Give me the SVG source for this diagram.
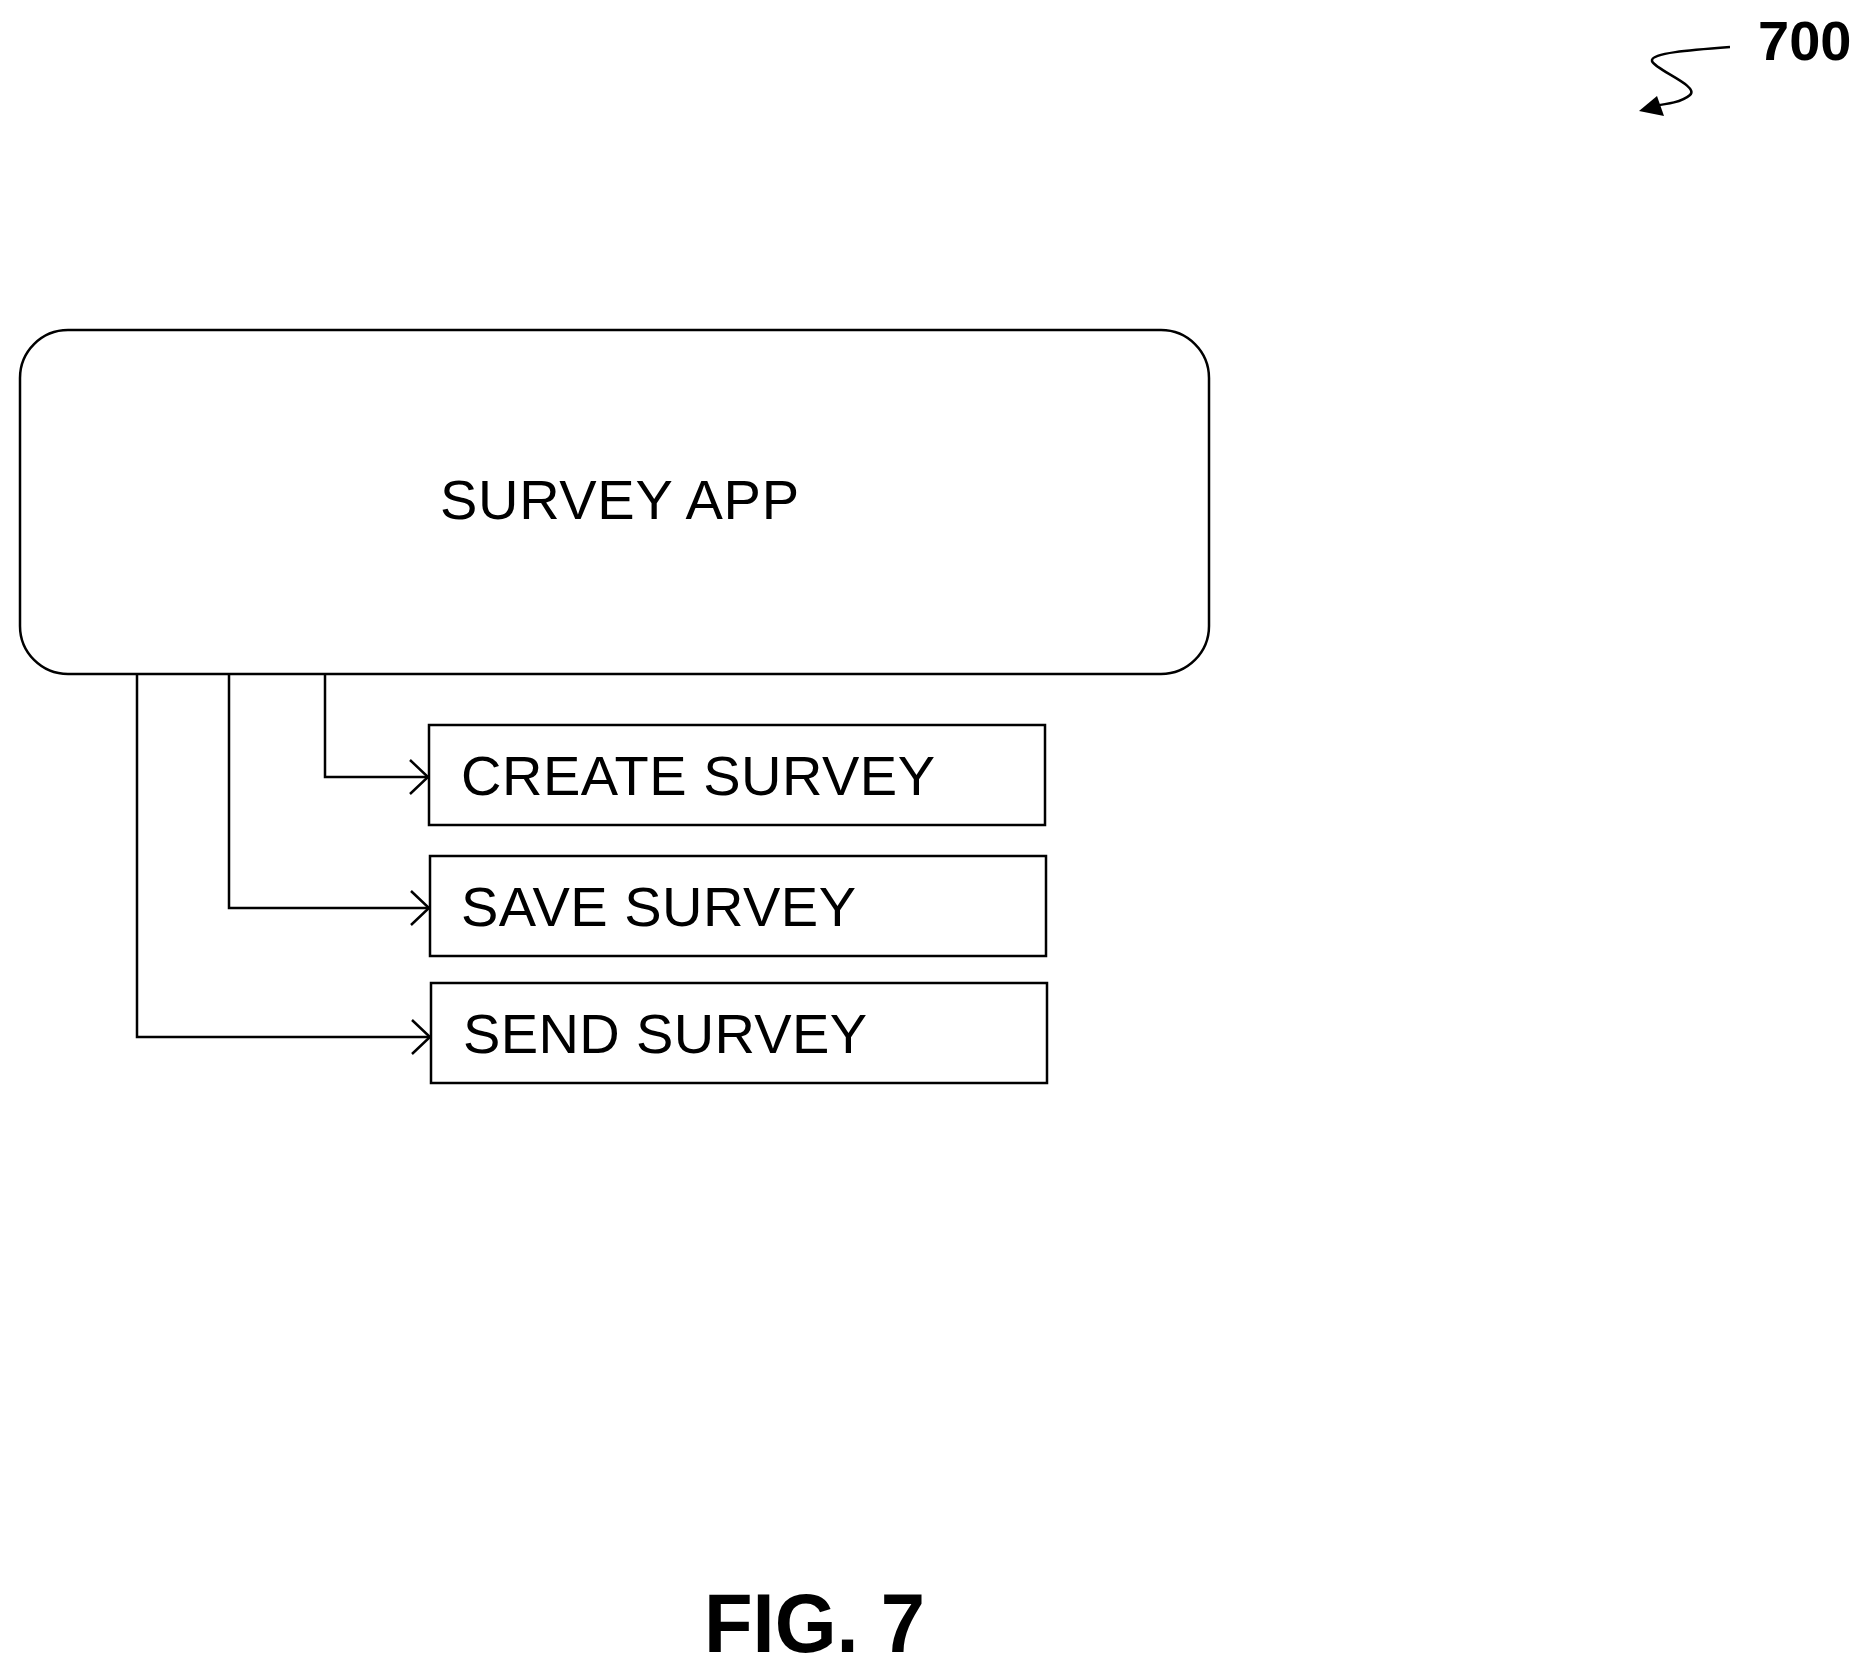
<svg xmlns="http://www.w3.org/2000/svg" width="1869" height="1671" viewBox="0 0 1869 1671">
<style>
.b{fill:#fff;stroke:#000;stroke-width:2.5}
.t{font-family:"Liberation Sans",Arial,sans-serif;font-size:56px;fill:#000}
.c{fill:none;stroke:#000;stroke-width:2.5}
</style>
<defs><marker id="a" markerWidth="20" markerHeight="36" refX="19" refY="18" orient="auto" markerUnits="userSpaceOnUse"><path d="M1,1 L19,18 L1,35" fill="none" stroke="#000" stroke-width="2.5"/></marker></defs>
<rect width="1869" height="1671" fill="#fff"/>
<g id="ref700">
<text x="1758" y="60" style="font-family:'Liberation Sans',Arial,sans-serif;font-weight:bold;font-size:56px">700</text>
<path d="M1730,47 C1690,50 1650,53 1652,61 C1655,70 1700,86 1690,95 C1682,102 1668,104 1652,106" class="c" stroke-width="3"/>
<path d="M1639,111 L1657,96 L1664,116 Z" fill="#000"/>
</g>
<g id="app"><rect class="b" x="20" y="330" width="1189" height="344" rx="48"/><text class="t" x="440" y="519" textLength="359">SURVEY APP</text></g>
<g id="create"><rect class="b" x="429" y="725" width="616" height="100"/><text class="t" x="461" y="795" textLength="474">CREATE SURVEY</text></g>
<g id="save"><rect class="b" x="430" y="856" width="616" height="100"/><text class="t" x="461" y="926" textLength="395">SAVE SURVEY</text></g>
<g id="send"><rect class="b" x="431" y="983" width="616" height="100"/><text class="t" x="463" y="1053" textLength="404">SEND SURVEY</text></g>
<g id="connectors">
<path class="c" d="M325,674 V777 H428" marker-end="url(#a)"/>
<path class="c" d="M229,674 V908 H429" marker-end="url(#a)"/>
<path class="c" d="M137,674 V1037 H430" marker-end="url(#a)"/>
</g>
<text x="704" y="1652" textLength="221" lengthAdjust="spacingAndGlyphs" style="font-family:'Liberation Sans',Arial,sans-serif;font-weight:bold;font-size:84px">FIG. 7</text>
</svg>
